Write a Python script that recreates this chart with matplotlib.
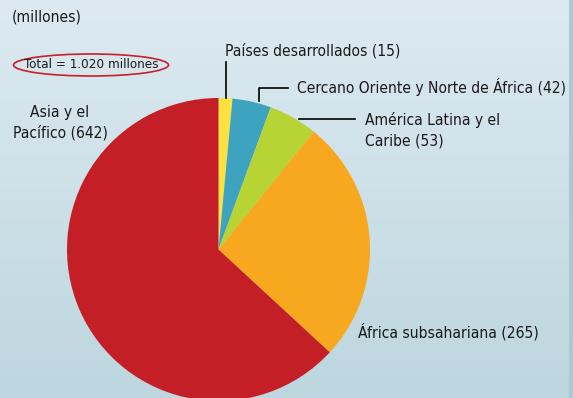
import numpy as np
import matplotlib
matplotlib.use("Agg")
import matplotlib.pyplot as plt
from matplotlib.patches import Ellipse

# Population (millions) by region
regions = ["Países desarrollados", "Cercano Oriente y Norte de África",
           "América Latina y el Caribe", "África subsahariana", "Asia y el Pacífico"]
values = [15, 42, 53, 265, 642]
colors = ["#fde13f", "#3ea3bf", "#b7d334", "#f8a81e", "#c41f26"]

W, H = 573, 398
plt.rcParams["font.family"] = ["DejaVu Sans"]
plt.rcParams["font.stretch"] = "condensed"

fig = plt.figure(figsize=(W / 100, H / 100), dpi=100)
ax = fig.add_axes([0, 0, 1, 1])

# background: vertical gradient + darker strip at the right edge
top = np.array([0xdd, 0xea, 0xf1]) / 255
bot = np.array([0xbd, 0xd6, 0xdf]) / 255
t = np.linspace(0, 1, 200)[:, None]
grad = (top * (1 - t) + bot * t)[:, None, :].repeat(2, axis=1)
ax.imshow(grad, extent=[0, W, 0, H], aspect="auto", zorder=0)
ax.axvspan(569, W, color="#a9c9d4", zorder=0.5, lw=0)


def Y(py):
    return H - py


ax.pie(values, colors=colors, startangle=90, counterclock=False,
       center=(218.5, Y(249.5)), radius=151.5, frame=True,
       wedgeprops=dict(linewidth=0))
ax.set_xlim(0, W)
ax.set_ylim(0, H)
ax.set_aspect("equal")
ax.axis("off")

fs = 11.2
txt = dict(color="#1a1a1a", fontsize=fs, va="center")
ax.text(12, Y(17), "(millones)", ha="left", **txt)

ax.add_patch(Ellipse((91, Y(65)), 155, 22, fill=False, ec="#c8202a", lw=1.2))
ax.text(91, Y(65), "Total = 1.020 millones", ha="center", va="center",
        color="#1a1a1a", fontsize=9.6)

ax.text(225, Y(51), f"{regions[0]} ({values[0]})", ha="left", **txt)
ax.plot([226, 226], [Y(62), Y(98)], color="black", lw=1.2)

ax.text(297, Y(87), f"{regions[1]} ({values[1]})", ha="left", **txt)
ax.plot([259, 259, 288], [Y(101), Y(88), Y(88)], color="black", lw=1.2)

ax.text(365, Y(120), "América Latina y el", ha="left", **txt)
ax.text(365, Y(141), f"Caribe ({values[2]})", ha="left", **txt)
ax.plot([299, 355], [Y(119), Y(119)], color="black", lw=1.2)

ax.text(358, Y(332), f"{regions[3]} ({values[3]})", ha="left", **txt)

ax.text(60, Y(112), "Asia y el", ha="center", **txt)
ax.text(60, Y(133), f"Pacífico ({values[4]})", ha="center", **txt)

fig.savefig("out.png", dpi=100)
